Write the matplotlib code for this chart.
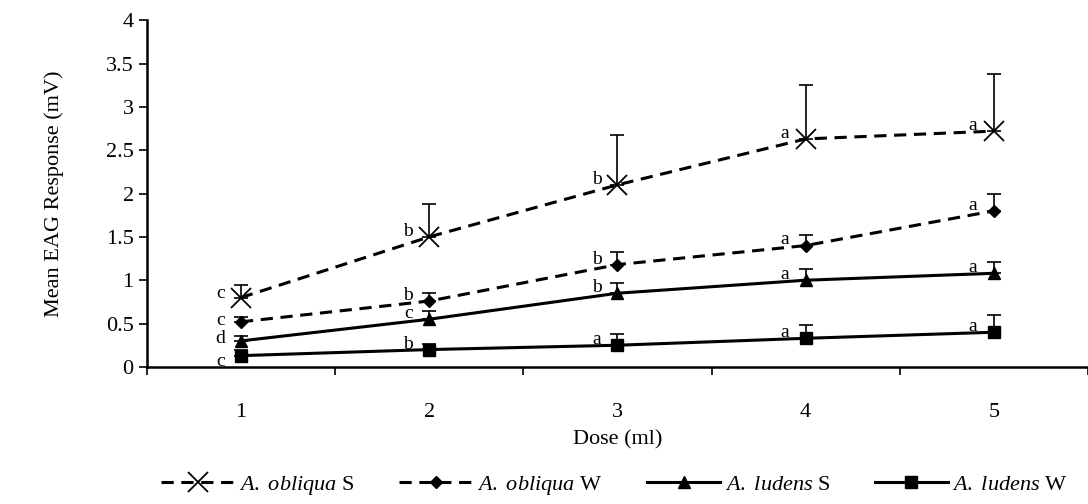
import matplotlib
matplotlib.use("Agg")
import matplotlib.pyplot as plt
import numpy as np

plt.rcParams['font.family'] = ['Liberation Serif', 'DejaVu Serif']
plt.rcParams['mathtext.fontset'] = 'custom'
plt.rcParams['mathtext.it'] = 'Liberation Serif:italic'
plt.rcParams['mathtext.rm'] = 'Liberation Serif'

doses = ["1", "2", "3", "4", "5"]
ob_s = [0.80, 1.50, 2.10, 2.63, 2.72]
ob_s_err = [0.15, 0.38, 0.58, 0.62, 0.66]
ob_s_let = ["c", "b", "b", "a", "a"]
ob_w = [0.52, 0.76, 1.18, 1.40, 1.80]
ob_w_err = [0.06, 0.09, 0.14, 0.12, 0.20]
ob_w_let = ["c", "b", "b", "a", "a"]
lu_s = [0.30, 0.55, 0.85, 1.00, 1.08]
lu_s_err = [0.06, 0.10, 0.12, 0.13, 0.13]
lu_s_let = ["d", "c", "b", "a", "a"]
lu_w = [0.13, 0.20, 0.25, 0.33, 0.40]
lu_w_err = [0.07, 0.07, 0.13, 0.15, 0.20]
lu_w_let = ["c", "b", "a", "a", "a"]

fig = plt.figure(figsize=(10.88, 5.04), dpi=100)
ax = fig.add_axes([0.135, 0.272, 0.865, 0.688])
x = np.arange(len(doses))

first_dy = [3, 1, 2, -4]
series = [
    (ob_s, ob_s_err, ob_s_let, 'x', '--', 15, "$\\it{A.\\ obliqua}$ S"),
    (ob_w, ob_w_err, ob_w_let, 'D', '--', 6, "$\\it{A.\\ obliqua}$ W"),
    (lu_s, lu_s_err, lu_s_let, '^', '-', 8, "$\\it{A.\\ ludens}$ S"),
    (lu_w, lu_w_err, lu_w_let, 's', '-', 8, "$\\it{A.\\ ludens}$ W"),
]
handles = []
for i, (vals, err, lets, mk, ls, ms, lab) in enumerate(series):
    ax.errorbar(x, vals, yerr=[np.zeros(len(err)), err], fmt='none',
                ecolor='black', elinewidth=1.2, capsize=5, capthick=1.2)
    h, = ax.plot(x, vals, color='black', linestyle=ls, linewidth=2.2,
                 marker=mk, markersize=ms,
                 markeredgewidth=1.3 if mk == 'x' else 1, label=lab)
    if ls == '--':
        h.set_dashes((4, 2.5))
    handles.append(h)
    for j, (xi, v, l) in enumerate(zip(x, vals, lets)):
        dy = first_dy[i] if j == 0 else 4
        ax.annotate(l, (xi, v), xytext=(-15, dy), textcoords='offset points',
                    ha='center', va='center', fontsize=14)

ax.set_xlim(-0.5, 4.5)
ax.set_ylim(0, 4)
ax.set_yticks(np.arange(0, 4.01, 0.5))
ax.set_yticklabels(["0", "0.5", "1", "1.5", "2", "2.5", "3", "3.5", "4"])
ax.set_xticks(np.arange(-0.5, 4.6, 1.0))
ax.set_xticklabels([])
ax.set_xticks(x, minor=True)
ax.set_xticklabels(doses, minor=True)
ax.tick_params(axis='x', which='minor', length=0, labelsize=16, pad=26)
ax.tick_params(axis='x', which='major', length=6, width=1.2, direction='out')
ax.tick_params(axis='y', length=6, width=1.2, direction='out', labelsize=16)
for s in ['top', 'right']:
    ax.spines[s].set_visible(False)
for s in ['left', 'bottom']:
    ax.spines[s].set_linewidth(1.8)
ax.set_xlabel("Dose (ml)", fontsize=16, labelpad=6)
ax.set_ylabel("Mean EAG Response (mV)", fontsize=16, labelpad=30)

fig.legend(handles=handles, loc='lower center', bbox_to_anchor=(0.565, -0.025), ncol=4,
           frameon=False, fontsize=16, handlelength=3.3, columnspacing=2.0, handletextpad=0.2)

fig.savefig("out.png", dpi=100)
